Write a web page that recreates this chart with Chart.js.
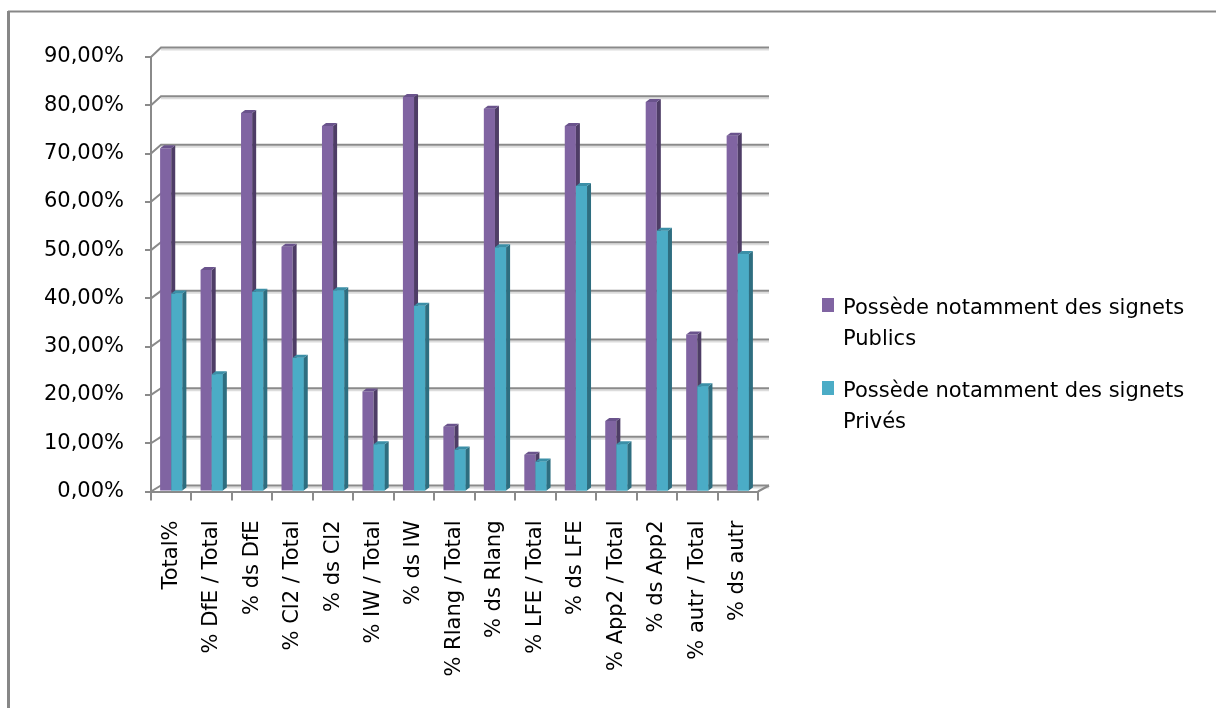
<!DOCTYPE html>
<html>
<head>
<meta charset="utf-8">
<script src="https://cdn.jsdelivr.net/npm/chart.js@4.4.1/dist/chart.umd.min.js"></script>
<style>
  html, body { margin: 0; padding: 0; background: #fff; }
  #wrap { width: 1216px; height: 708px; }
</style>
</head>
<body>
<div id="wrap"><canvas id="chart" width="1216" height="708"></canvas></div>
<script>
// Catégories de l'axe X
const categories = ['Total%', '% DfE / Total', '% ds DfE', '% Cl2 / Total', '% ds Cl2', '% IW / Total', '% ds IW',
    '% Rlang / Total', '% ds Rlang', '% LFE / Total', '% ds LFE', '% App2 / Total', '% ds App2', '% autr / Total', '% ds autr'];

// Valeurs (en %)
const publics = [71.1, 45.9, 78.4, 50.7, 75.7, 20.7, 81.7, 13.4, 79.3, 7.6, 75.7, 14.6, 80.7, 32.5, 73.7];
const prives = [41.0, 24.3, 41.4, 27.7, 41.7, 9.8, 38.5, 8.7, 50.6, 6.2, 63.3, 9.8, 54.0, 21.8, 49.2];

// Libellés de la légende et de l'axe Y
const seriesNames = [['Possède notamment des signets', 'Publics'], ['Possède notamment des signets', 'Privés']];
const yTickLabels = ['0,00%', '10,00%', '20,00%', '30,00%', '40,00%', '50,00%', '60,00%', '70,00%', '80,00%', '90,00%'];

const colors = ['#8064a2', '#4bacc6'];
const faces = [
    { side: '#4e3d66', top: '#6a538c' },
    { side: '#2e6e80', top: '#3b8fa7' }
];
const dx = 4, dy = -3;
const gridColor = '#8a8a8a';
const font = '"DejaVu Sans", sans-serif';

function poly(ctx, pts, color) {
    ctx.fillStyle = color;
    ctx.beginPath();
    ctx.moveTo(pts[0][0], pts[0][1]);
    for (let i = 1; i < pts.length; i++) ctx.lineTo(pts[i][0], pts[i][1]);
    ctx.closePath();
    ctx.fill();
}

function drawFaces(ctx, meta, f) {
    meta.data.forEach(bar => {
        const p = bar.getProps(['x', 'y', 'base', 'width'], true);
        const l = p.x - p.width / 2, r = p.x + p.width / 2;
        poly(ctx, [[r, p.y], [r + dx, p.y + dy], [r + dx, p.base + dy], [r, p.base]], f.side);
        poly(ctx, [[l, p.y], [l + dx, p.y + dy], [r + dx, p.y + dy], [r, p.y]], f.top);
    });
}

// Plugin : fond 3D (murs, grille), faces des barres, légende, cadre
const threeD = {
    id: 'threeD',
    beforeDatasetsDraw(chart) {
        const ctx = chart.ctx, y = chart.scales.y, area = chart.chartArea;
        const wallRight = area.right + 11;
        ctx.save();
        y.ticks.forEach(t => {
            const py = y.getPixelForValue(t.value);
            const by = py - 6 - (area.bottom - py) * 0.008;
            ctx.strokeStyle = '#dcdcdc';
            ctx.lineWidth = 2;
            ctx.beginPath();
            ctx.moveTo(area.left + 10, by + 2);
            ctx.lineTo(wallRight, by + 2);
            ctx.stroke();
            ctx.strokeStyle = gridColor;
            ctx.beginPath();
            ctx.moveTo(area.left, py);
            ctx.lineTo(area.left + 10, by);
            ctx.lineTo(wallRight, by);
            ctx.stroke();
        });
        ctx.beginPath();
        ctx.moveTo(area.right, area.bottom);
        ctx.lineTo(wallRight, area.bottom - 6);
        ctx.stroke();
        ctx.restore();
    },
    afterDatasetsDraw(chart) {
        const ctx = chart.ctx;
        const m0 = chart.getDatasetMeta(0), m1 = chart.getDatasetMeta(1);
        ctx.save();
        drawFaces(ctx, m0, faces[0]);
        m1.data.forEach(b => b.draw(ctx));
        drawFaces(ctx, m1, faces[1]);
        ctx.restore();
    },
    afterDraw(chart) {
        const ctx = chart.ctx;
        ctx.save();
        // légende
        const lx = 822, tops = [298, 381];
        ctx.font = '21px ' + font;
        ctx.textBaseline = 'alphabetic';
        seriesNames.forEach((lines, i) => {
            ctx.fillStyle = colors[i];
            ctx.fillRect(lx, tops[i], 12, 14);
            ctx.fillStyle = '#000';
            lines.forEach((s, j) => ctx.fillText(s, lx + 21, tops[i] + 16 + j * 31));
        });
        // cadre
        ctx.strokeStyle = '#878787';
        ctx.lineWidth = 3;
        ctx.beginPath();
        ctx.moveTo(8.5, 708);
        ctx.lineTo(8.5, 11);
        ctx.stroke();
        ctx.lineWidth = 2;
        ctx.beginPath();
        ctx.moveTo(8, 11.5);
        ctx.lineTo(1216, 11.5);
        ctx.stroke();
        ctx.restore();
    }
};

const ctx = document.getElementById('chart').getContext('2d');
const chart = new Chart(ctx, {
    type: 'bar',
    data: {
        labels: categories,
        datasets: [{
            label: seriesNames[0].join(' '),
            data: publics,
            backgroundColor: colors[0],
            borderWidth: 0,
            categoryPercentage: 0.55,
            barPercentage: 1
        }, {
            label: seriesNames[1].join(' '),
            data: prives,
            backgroundColor: colors[1],
            borderWidth: 0,
            categoryPercentage: 0.55,
            barPercentage: 1
        }]
    },
    options: {
        responsive: false,
        animation: false,
        layout: { padding: { left: 41, top: 57, right: 458, bottom: 0 } },
        plugins: {
            legend: { display: false },
            tooltip: { enabled: false }
        },
        scales: {
            x: {
                offset: true,
                grid: { offset: true, drawOnChartArea: false, tickLength: 9, color: gridColor, lineWidth: 2 },
                border: { color: gridColor, width: 2 },
                ticks: { minRotation: 90, maxRotation: 90, autoSkip: false, padding: 20, color: '#000', font: { family: font, size: 21 } },
                afterFit: s => { s.height = 216.5; s.paddingLeft = 0; s.paddingRight = 0; }
            },
            y: {
                min: 0,
                max: 90,
                grid: { drawOnChartArea: false, tickLength: 6, color: gridColor, lineWidth: 2 },
                border: { color: gridColor, width: 2 },
                ticks: {
                    stepSize: 10,
                    padding: 21,
                    color: '#000',
                    font: { family: font, size: 21 },
                    callback: v => yTickLabels[Math.round(v / 10)]
                },
                afterFit: s => { s.width = 110; s.paddingTop = 0; s.paddingBottom = 0; }
            }
        }
    },
    plugins: [threeD]
});
</script>
</body>
</html>
